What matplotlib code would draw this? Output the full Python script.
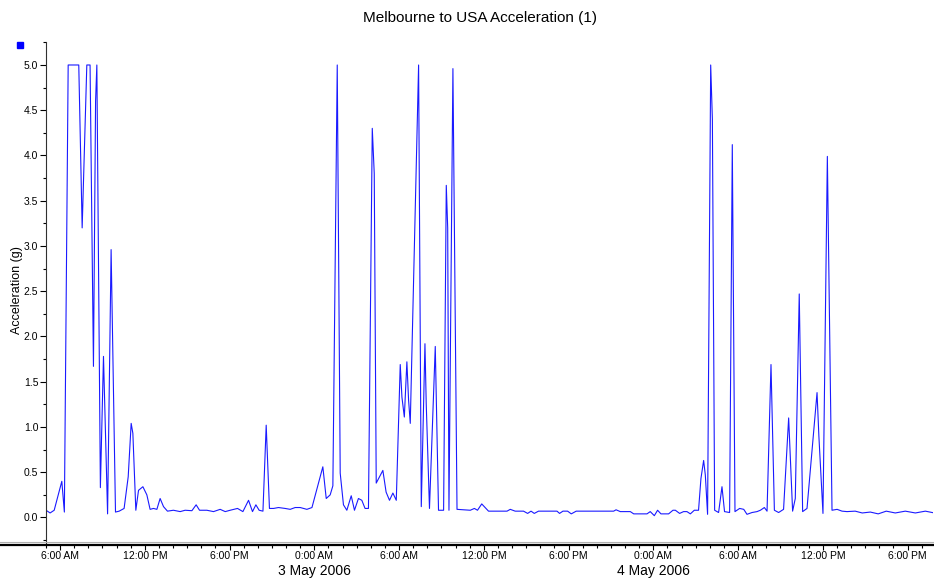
import matplotlib
matplotlib.use("Agg")
import matplotlib.pyplot as plt
from matplotlib.lines import Line2D
from matplotlib.ticker import MultipleLocator, FuncFormatter

plt.rcParams['font.family'] = ['Liberation Sans', 'DejaVu Sans']

# hours since 2 May 2006 00:00
hours = [5.0, 5.29, 5.58, 6.12, 6.30, 6.57, 7.32, 7.56, 7.89, 8.12,
         8.36, 8.51, 8.60, 8.85, 9.07, 9.36, 9.61, 9.92, 10.18, 10.53,
         10.82, 11.03, 11.15, 11.36, 11.55, 11.86, 12.14, 12.37, 12.61, 12.85,
         13.08, 13.32, 13.60, 14.02, 14.50, 14.85, 15.33, 15.63, 15.87, 16.39,
         16.86, 17.33, 17.69, 18.04, 18.56, 18.94, 19.34, 19.62, 19.86, 20.09,
         20.36, 20.59, 20.82, 21.11, 21.46, 21.93, 22.29, 22.64, 23.00, 23.47,
         23.83, 24.60, 24.84, 25.12, 25.31, 25.62, 25.83, 26.06, 26.30, 26.61,
         26.84, 27.12, 27.36, 27.59, 27.83, 28.10, 28.24, 28.38, 28.85, 29.08,
         29.32, 29.56, 29.80, 30.08, 30.20, 30.37, 30.55, 30.67, 30.79, 31.38,
         31.57, 31.83, 31.92, 32.15, 32.56, 32.79, 33.15, 33.34, 33.44, 33.53,
         33.81, 34.10, 35.04, 35.33, 35.55, 35.85, 36.33, 37.64, 37.87, 38.22,
         38.81, 39.10, 39.34, 39.57, 39.87, 41.18, 41.36, 41.60, 41.93, 42.19,
         42.54, 45.19, 45.36, 45.66, 46.37, 46.61, 47.55, 47.78, 48.07, 48.30,
         48.54, 49.08, 49.39, 49.56, 49.86, 50.14, 50.38, 50.62, 50.90, 51.20,
         51.37, 51.56, 51.68, 51.84, 52.06, 52.18, 52.34, 52.62, 52.86, 53.04,
         53.40, 53.59, 53.78, 54.11, 54.40, 54.63, 54.99, 55.34, 55.58, 55.86,
         56.05, 56.33, 56.57, 56.87, 57.22, 57.58, 57.86, 58.05, 58.33, 58.57,
         58.88, 59.59, 59.72, 60.01, 60.32, 60.65, 61.01, 61.36, 61.71, 62.29,
         62.79, 63.36, 63.92, 64.49, 65.13, 65.84, 66.55, 67.26, 67.90]

accel = [0.08, 0.05, 0.08, 0.40, 0.06, 5.0, 5.0, 3.2, 5.0, 5.0,
         1.67, 4.6, 5.0, 0.33, 1.78, 0.04, 2.96, 0.06, 0.07, 0.10,
         0.45, 1.04, 0.93, 0.08, 0.30, 0.34, 0.25, 0.09, 0.10, 0.09,
         0.21, 0.12, 0.07, 0.08, 0.065, 0.08, 0.075, 0.14, 0.08, 0.08,
         0.065, 0.09, 0.065, 0.08, 0.10, 0.065, 0.19, 0.065, 0.14, 0.08,
         0.07, 1.02, 0.10, 0.10, 0.11, 0.10, 0.09, 0.11, 0.11, 0.09,
         0.11, 0.56, 0.21, 0.25, 0.35, 5.0, 0.49, 0.14, 0.08, 0.24,
         0.08, 0.21, 0.19, 0.10, 0.10, 4.30, 3.80, 0.38, 0.52, 0.28,
         0.19, 0.27, 0.19, 1.69, 1.33, 1.11, 1.72, 1.30, 1.04, 5.0,
         0.12, 1.92, 1.26, 0.10, 1.89, 0.08, 0.08, 3.67, 3.2, 0.08,
         4.96, 0.09, 0.08, 0.10, 0.08, 0.15, 0.07, 0.07, 0.09, 0.07,
         0.07, 0.045, 0.07, 0.045, 0.07, 0.07, 0.045, 0.07, 0.07, 0.04,
         0.07, 0.07, 0.085, 0.065, 0.065, 0.04, 0.04, 0.065, 0.02, 0.08,
         0.04, 0.04, 0.08, 0.08, 0.045, 0.065, 0.065, 0.04, 0.08, 0.08,
         0.43, 0.63, 0.47, 0.035, 5.0, 4.4, 0.08, 0.055, 0.34, 0.065,
         0.055, 4.12, 0.065, 0.10, 0.09, 0.035, 0.055, 0.065, 0.08, 0.11,
         0.07, 1.69, 0.08, 0.055, 0.09, 1.10, 0.07, 0.21, 2.47, 0.065,
         0.10, 1.38, 0.9, 0.045, 3.99, 0.08, 0.09, 0.07, 0.065, 0.07,
         0.05, 0.06, 0.04, 0.07, 0.05, 0.07, 0.05, 0.07, 0.05]

date_ticks = [24, 48]
date_labels = ['3 May 2006', '4 May 2006']


def hour_label(h, pos):
    hh = int(round(h)) % 24
    if hh == 0:
        return '0:00 AM'
    if hh < 12:
        return '%d:00 AM' % hh
    if hh == 12:
        return '12:00 PM'
    return '%d:00 PM' % (hh - 12)


W, H = 934, 578
fig = plt.figure(figsize=(W / 100, H / 100), dpi=100)
ax = fig.add_axes([46 / W, 1 - 545 / H, (933 - 46) / W, (545 - 42) / H])

ax.plot(hours, accel, color='#1a1aff', lw=0.8)

ax.set_xlim(5.0, 67.8)
ax.set_ylim(-0.304, 5.254)

ax.xaxis.set_major_locator(MultipleLocator(6))
ax.xaxis.set_minor_locator(MultipleLocator(1))
ax.xaxis.set_major_formatter(FuncFormatter(hour_label))
ax.yaxis.set_major_locator(MultipleLocator(0.5))
ax.yaxis.set_minor_locator(MultipleLocator(0.25))
ax.yaxis.set_major_formatter(FuncFormatter(lambda v, p: '%.1f' % v))

ax.tick_params(axis='x', which='major', length=3.5, width=0.8, pad=0.5, labelsize=7.5)
ax.tick_params(axis='x', which='minor', length=2, width=0.8)
ax.tick_params(axis='y', which='major', length=4, width=0.8, pad=1.5, labelsize=7.5)
ax.tick_params(axis='y', which='minor', length=2.5, width=0.8)
# keep 0.0 as lowest labelled tick
ax.set_yticks([t * 0.5 for t in range(11)])

for s in ['top', 'right', 'bottom']:
    ax.spines[s].set_visible(False)
ax.spines['left'].set_linewidth(0.8)
ax.spines['left'].set_color('#303030')

# bottom axis line runs across the whole figure
y_axis = 1 - 545 / H
fig.add_artist(Line2D([0, 1], [y_axis + 3 / H, y_axis + 3 / H], transform=fig.transFigure,
                      color='#b0b0b0', lw=0.8))
fig.add_artist(Line2D([0, 1], [y_axis, y_axis], transform=fig.transFigure,
                      color='black', lw=1.6))

for h, lab in zip(date_ticks, date_labels):
    ax.annotate(lab, xy=(h, 0), xycoords=('data', 'axes fraction'),
                xytext=(0, -19), textcoords='offset points',
                ha='center', va='center', fontsize=10)

fig.text(480 / W, 1 - 18 / H, 'Melbourne to USA Acceleration (1)',
         ha='center', va='center', fontsize=11)
fig.text(17 / W, 1 - 290 / H, 'Acceleration (g)', rotation=90,
         ha='center', va='center', fontsize=9)
fig.add_artist(Line2D([20 / W], [1 - 45 / H], transform=fig.transFigure,
                      marker='s', ms=4, color='#0000ff', lw=0))

fig.savefig('out.png', dpi=100)
